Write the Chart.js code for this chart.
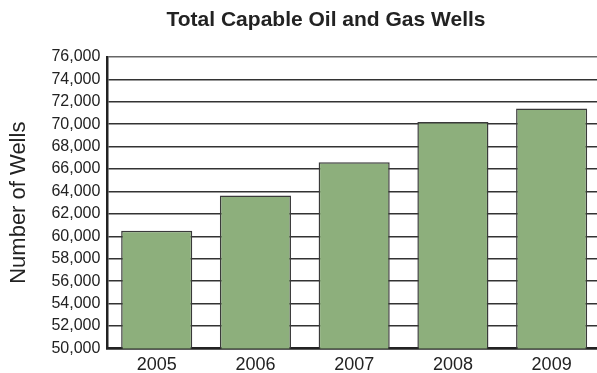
<!DOCTYPE html>
<html>
<head>
<meta charset="utf-8">
<script src="https://cdn.jsdelivr.net/npm/chart.js@4"></script>
<style>
  html, body { margin: 0; padding: 0; background: #fff; overflow: hidden; }
  #wrap { position: relative; width: 601px; height: 373px; }
</style>
</head>
<body>
<div id="wrap"><canvas id="wells-chart" width="601" height="373"></canvas></div>
<script>
const years = ['2005', '2006', '2007', '2008', '2009'];
const wells = [60500, 63650, 66600, 70200, 71400];
const yMin = 50000;
const yMax = 76000;
const yStep = 2000;

const FONT = '"Liberation Sans", Arial, Helvetica, sans-serif';

// chart heading, drawn in the canvas
const heading = {
    id: 'heading',
    afterDraw(chart, args, opts) {
        const c = chart.ctx;
        c.save();
        c.font = 'bold 21px ' + FONT;
        c.fillStyle = '#222';
        c.textAlign = 'center';
        c.textBaseline = 'alphabetic';
        c.fillText(opts.text, opts.x, opts.y);
        c.restore();
    }
};

const ctx = document.getElementById('wells-chart');

const myChart = new Chart(ctx, {
    type: 'bar',
    data: {
        labels: years,
        datasets: [{
            label: 'Total Capable Oil and Gas Wells',
            data: wells,
            backgroundColor: '#8daf7c',
            borderColor: '#3a3a3a',
            borderWidth: 1.5,
            borderSkipped: false,
            categoryPercentage: 1,
            barPercentage: 0.72
        }]
    },
    options: {
        responsive: false,
        animation: false,
        devicePixelRatio: 1,
        layout: {
            padding: { top: 57, left: 0, right: 0, bottom: -9 }
        },
        plugins: {
            legend: false,
            tooltip: { enabled: false },
            heading: { text: 'Total Capable Oil and Gas Wells', x: 326, y: 26 }
        },
        scales: {
            x: {
                grid: { display: false, drawTicks: false },
                border: { display: true, color: '#222', width: 2.5 },
                ticks: {
                    color: '#222',
                    padding: 6,
                    maxRotation: 0,
                    autoSkip: false,
                    font: { family: FONT, size: 18 }
                }
            },
            y: {
                min: yMin,
                max: yMax,
                grid: {
                    drawTicks: false,
                    color: (c) => c.tick && c.tick.value === yMax ? '#666' : '#333',
                    lineWidth: 1.5
                },
                border: { display: true, color: '#222', width: 2.5 },
                ticks: {
                    stepSize: yStep,
                    autoSkip: false,
                    color: '#222',
                    padding: 7,
                    font: { family: FONT, size: 16 }
                },
                title: {
                    display: true,
                    text: 'Number of Wells',
                    color: '#222',
                    padding: { top: 6, bottom: 12 },
                    font: { family: FONT, size: 22 }
                }
            }
        }
    },
    plugins: [heading]
});
</script>
</body>
</html>
